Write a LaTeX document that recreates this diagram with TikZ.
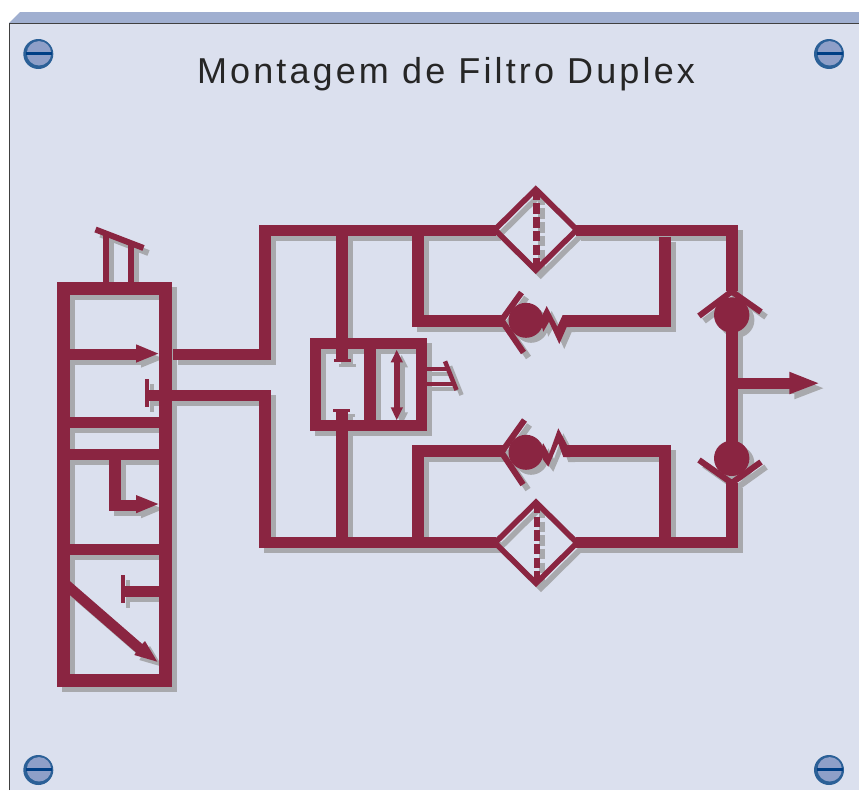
\documentclass[tikz,border=0pt]{standalone}
\usepackage{fontspec}
\setmainfont{Liberation Sans}
\newfontfamily\titlefont[LetterSpace=8.7]{Liberation Sans}
\definecolor{panelbg}{HTML}{DBE0EE}
\definecolor{bevel}{HTML}{A0AFD0}
\definecolor{maroon}{HTML}{8A2541}
\definecolor{shade}{HTML}{A8A9AD}
\definecolor{screwring}{HTML}{2B6097}
\definecolor{screwface}{HTML}{8E9FC8}
\definecolor{screwslot}{HTML}{003F85}
\tikzset{
  pipe/.style={draw=ink,line width=12,miter limit=10},
  hpipe/.style={draw=ink,line width=10.8},
  thin pipe/.style={draw=ink,line width=6},
  fine pipe/.style={draw=ink,line width=4},
  solid ink/.style={fill=ink,draw=none},
  screw/.pic={
    \fill[screwring] (0,0) circle (15);
    \fill[screwface] (0.7,-0.7) circle (12.2);
    \draw[screwslot,line width=3] (-12,-0.7) -- (14,-0.7);
  }
}
\newcommand{\filterunit}[2]{%
  \draw[draw=ink,line width=5.5,miter limit=10] (#1-41,#2) -- (#1,#2-40.5) -- (#1+41,#2) -- (#1,#2+40.5) -- cycle;
  \draw[draw=ink,line width=6.7,dash pattern=on 10.5 off 3.2] (#1+1,#2-40) -- (#1+1,#2+39);
}
\newcommand{\circuitdraw}{%
  % main manifold frame
  \coordinate (bTL) at (63.7,288);
  \coordinate (bBR) at (165,680.7);
  \draw[draw=ink,line width=13,miter limit=10] (bTL) rectangle (bBR);
  \draw[hpipe] (65,354.7) -- (137,354.7);
  \fill[solid ink] (136,344.3) -- (158.3,353.6) -- (136,362.7) -- cycle;
  \draw[hpipe] (65,422.7) -- (165,422.7);
  \draw[hpipe] (65,454.7) -- (165,454.7);
  \draw[pipe] (115,455) -- (115,500);
  \draw[hpipe] (109,505.5) -- (137,505.5);
  \fill[solid ink] (136,495) -- (158.3,504) -- (136,513.3) -- cycle;
  \draw[hpipe] (65,549.3) -- (165,549.3);
  \fill[solid ink] (121,575) rectangle (125,603);
  \draw[hpipe] (125,591.3) -- (165,591.3);
  \fill[solid ink] (66,577.7) -- (142.3,644) -- (145,641) -- (157.3,661.7) -- (134.3,655) -- (136,652.5) -- (66,591.7) -- cycle;
  % lever on top of the manifold
  \draw[thin pipe] (105.7,283) -- (105.7,233);
  \draw[thin pipe] (131,283) -- (131,243);
  \draw[thin pipe] (95.5,229.5) -- (143.5,248);
  % pipes to the circuit
  \draw[hpipe] (173,354.7) -- (271,354.7);
  \draw[pipe] (265,360) -- (265,225);
  \draw[hpipe] (259,230.3) -- (496,230.3);
  \draw[hpipe] (149,395.5) -- (271,395.5);
  \draw[pipe] (265,390.1) -- (265,548);
  \draw[hpipe] (259,542.7) -- (496,542.7);
  \draw[hpipe] (576,230.3) -- (737.7,230.3);
  \draw[pipe] (731.7,225) -- (731.7,291);
  \draw[hpipe] (576,542.7) -- (737.7,542.7);
  \draw[pipe] (731.7,548) -- (731.7,483);
  \fill[solid ink] (145,379) rectangle (149,406.7);
  % selector block
  \draw[draw=ink,line width=10.7,miter limit=10] (315.3,343.3) rectangle (421.7,425.4);
  \draw[pipe] (369.7,343) -- (369.7,425);
  \draw[pipe] (341.7,230) -- (341.7,360);
  \fill[solid ink] (334,359) rectangle (351,362);
  \draw[pipe] (341.7,542) -- (341.7,410);
  \fill[solid ink] (333,409) rectangle (350,412);
  \draw[draw=ink,line width=6.3] (396.7,360) -- (396.7,410);
  \fill[solid ink] (396.7,350) -- (403,362.3) -- (390.7,362.3) -- cycle;
  \fill[solid ink] (396.7,420) -- (403,407.3) -- (390.7,407.3) -- cycle;
  \draw[fine pipe] (427,369) -- (449,369);
  \draw[fine pipe] (427,384) -- (454,384);
  \draw[draw=ink,line width=4.5] (445,361.3) -- (456.5,390);
  % filter loops
  \draw[pipe] (417.5,230) -- (417.5,321) -- (503,321);
  \draw[pipe] (664.5,236.5) -- (664.5,321) -- (565,321);
  \draw[pipe] (503,451.3) -- (417.5,451.3) -- (417.5,542);
  \draw[pipe] (565,451.3) -- (664.5,451.3) -- (664.5,542);
  \filterunit{535.8}{229.7}
  \filterunit{536}{542.8}
  % check valves with spring
  \fill[solid ink] (526,320.3) circle (17.5);
  \draw[thin pipe] (521.5,292.5) -- (501.5,320.3) -- (523.5,352.5);
  \fill[solid ink] (540,320) -- (546.7,306) -- (557.3,326.7) -- (562.7,315) -- (570,315) -- (570,327) -- (566.7,327) -- (559.3,344) -- (549,321.7) -- (543.3,331.7) -- cycle;
  \fill[solid ink] (526,452.3) circle (17.5);
  \draw[thin pipe] (524.5,420) -- (501.5,452.3) -- (523,484.5);
  \fill[solid ink] (540,452) -- (543.3,443.3) -- (549,454) -- (558.3,428.3) -- (567.3,445.3) -- (570,445.3) -- (570,457) -- (563.3,457) -- (558.3,443.3) -- (548.3,466.7) -- (543.3,460) -- cycle;
  % output shuttle
  \fill[solid ink] (731.7,315) circle (17.7);
  \fill[solid ink] (731.7,458.3) circle (17.7);
  \draw[pipe] (731.7,315) -- (731.7,458);
  \draw[thin pipe] (699,316) -- (731.7,291.5) -- (761,312);
  \draw[thin pipe] (699,460) -- (731.7,483) -- (761,462);
  \draw[hpipe] (731.7,383.5) -- (790,383.5);
  \fill[solid ink] (789.3,371.7) -- (818.3,383.2) -- (789.3,394.3) -- cycle;
}
\begin{document}
\begin{tikzpicture}[x=1pt,y=-1pt]
  \useasboundingbox (0,0) rectangle (859,790);
  \fill[white] (0,0) rectangle (859,790);
  \fill[bevel] (9,23) -- (20,12) -- (859,12) -- (859,23) -- cycle;
  \fill[panelbg] (9,23) rectangle (859,790);
  \draw[black!75,line width=1.3] (9.5,790) -- (9.5,23.5) -- (859,23.5);
  \pic at (38.3,54) {screw};
  \pic at (829,54) {screw};
  \pic at (38.3,770) {screw};
  \pic at (829,770) {screw};
  \node[anchor=center,inner sep=0pt,text=black!85] (title) at (446,74) {\fontsize{36}{40}\selectfont\titlefont Montagem de Filtro Duplex};
  \begin{scope}[shift={(5,5)}]
    \colorlet{ink}{shade}
    \circuitdraw
  \end{scope}
  \begin{scope}
    \colorlet{ink}{maroon}
    \circuitdraw
  \end{scope}
\end{tikzpicture}
\end{document}
